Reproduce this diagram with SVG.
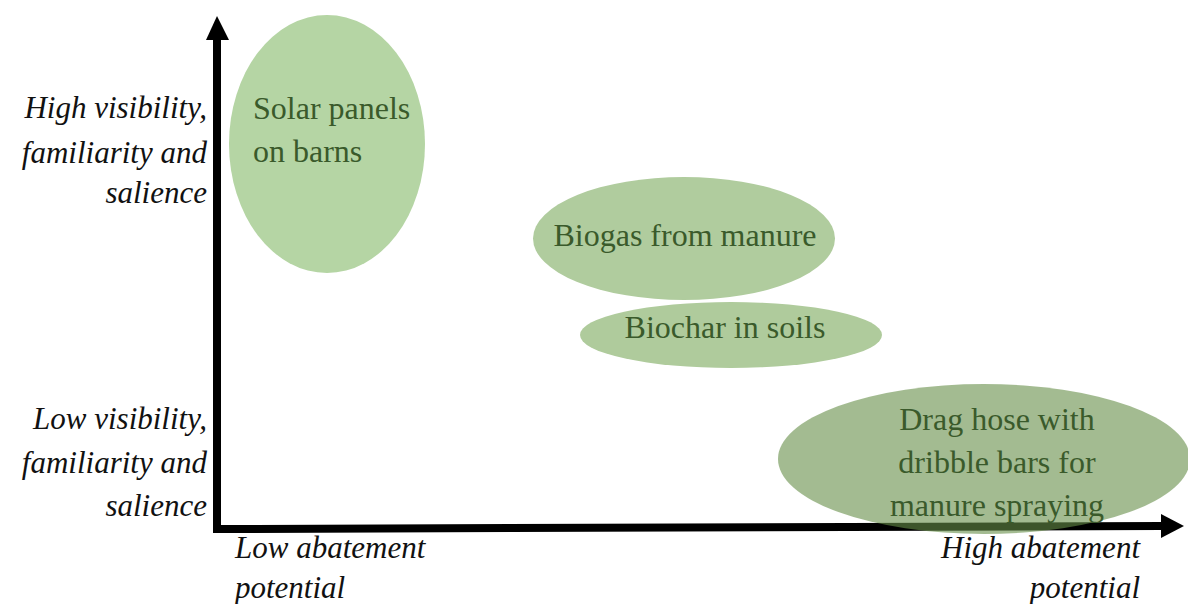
<svg xmlns="http://www.w3.org/2000/svg" width="1188" height="604" viewBox="0 0 1188 604">
<style>
.node text{font-family:"Liberation Serif","Times New Roman",serif;font-size:32px;fill:#3a5a2b;}
.lab{font-family:"Liberation Serif","Times New Roman",serif;font-size:31px;font-style:italic;fill:#111;}
.axis{stroke:#000;stroke-width:8;fill:none;stroke-linejoin:miter;}
</style>
<rect width="1188" height="604" fill="#fff"/>
<g id="connectors">
<polyline class="axis" points="217,38 217,529 1162,526"/>
<polygon points="217,16 206,40 229,40" fill="#000"/>
<polygon points="1184,526 1161,514 1161,538" fill="#000"/>
</g>
<g id="solar" class="node">
<ellipse cx="327" cy="144" rx="98" ry="129" fill="#b5d5a4"/>
<text x="253" y="119">Solar panels</text>
<text x="253" y="162">on barns</text>
</g>
<g id="biogas" class="node">
<ellipse cx="684" cy="238.5" rx="151" ry="61.5" fill="#b0cc9e"/>
<text x="685" y="246" text-anchor="middle">Biogas from manure</text>
</g>
<g id="biochar" class="node">
<ellipse cx="731" cy="335" rx="151" ry="33" fill="#afcb9c"/>
<text x="725" y="338" text-anchor="middle">Biochar in soils</text>
</g>
<g id="draghose" class="node">
<ellipse cx="984" cy="459" rx="206" ry="75" fill="#668e48" fill-opacity="0.6"/>
<text x="997" y="430" text-anchor="middle">Drag hose with</text>
<text x="997" y="473" text-anchor="middle">dribble bars for</text>
<text x="997" y="516" text-anchor="middle">manure spraying</text>
</g>
<g id="labels">
<text class="lab" x="207" y="118" text-anchor="end">High visibility,</text>
<text class="lab" x="207" y="163" text-anchor="end">familiarity and</text>
<text class="lab" x="207" y="203" text-anchor="end">salience</text>
<text class="lab" x="207" y="429" text-anchor="end">Low visibility,</text>
<text class="lab" x="207" y="473" text-anchor="end">familiarity and</text>
<text class="lab" x="207" y="516" text-anchor="end">salience</text>
<text class="lab" x="235" y="558">Low abatement</text>
<text class="lab" x="235" y="598">potential</text>
<text class="lab" x="1140" y="558" text-anchor="end">High abatement</text>
<text class="lab" x="1140" y="598" text-anchor="end">potential</text>
</g>
</svg>
